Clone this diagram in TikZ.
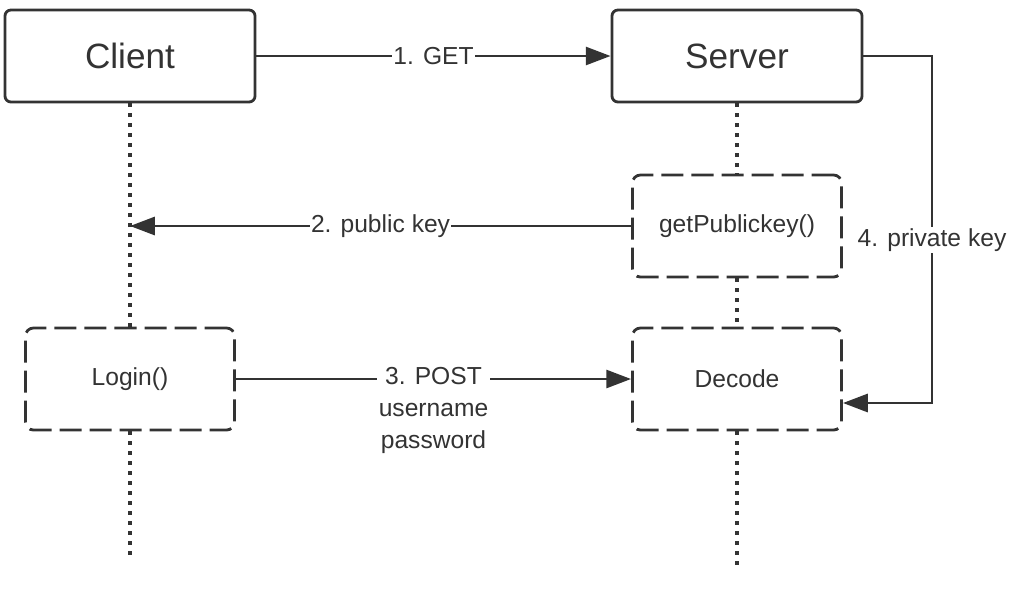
\documentclass[tikz,border=0pt]{standalone}
\usepackage{fontspec}
\setmainfont{Liberation Sans}
\usetikzlibrary{arrows.meta,positioning}
\definecolor{ink}{HTML}{333333}
\tikzstyle{actor}=[rectangle, rounded corners=0.15cm, draw=ink, line width=2pt, align=center, minimum width=6.25cm, minimum height=2.3cm, font=\fontsize{25}{30}\selectfont]
\tikzstyle{call}=[rectangle, rounded corners=0.2cm, draw=ink, line width=2pt, dash pattern=on 0.55cm off 0.2cm, align=center, minimum width=5.225cm, minimum height=2.55cm, font=\fontsize{17.5}{21}\selectfont]
\tikzstyle{msg}=[fill=white, inner sep=1pt, align=center, font=\fontsize{17.5}{22.8}\selectfont]
\tikzstyle{lifeline}=[draw=ink, line width=2.4pt, dash pattern=on 0.08cm off 0.17cm]
\tikzstyle{conn}=[draw=ink, line width=2pt]

\begin{document}
\begin{tikzpicture}[x=0.025cm, y=-0.025cm, every node/.style={text=ink}, >={Triangle[length=0.62cm,width=0.45cm]}]
\useasboundingbox (0,0) rectangle (1018,600);

\node[actor](client) at (130,56) {Client};
\node[actor](server) at (737,56) {Server};
\node[call](getpk) at (737,226) {getPublickey()};
\node[call](decode) at (737,379) {Decode};
\node[call](login) at (130,379) {Login()};

\coordinate (cend) at (130,558);
\coordinate (send) at (737,568);
\coordinate (pk1) at (932,56);
\coordinate (pk2) at (932,403);

% lifelines
\draw[lifeline](client.south) -- (login.north);
\draw[lifeline](login.south) -- (cend);
\draw[lifeline](server.south) -- (getpk.north);
\draw[lifeline](getpk.south) -- (decode.north);
\draw[lifeline](decode.south) -- (send);

% messages
\draw[conn,->](client.east) -- node[msg] {1. GET} (server.west);
\draw[conn,->](getpk.west) -- node[msg] {2. public key} (getpk.west -| client);
\draw[conn,->](login.east) -- node[msg,anchor=north,yshift=0.36cm] {3. POST\\username\\password} (decode.west);
\draw[conn,->](server.east) -- (pk1) -- node[msg,pos=0.53] {4. private key} (pk2) -- (pk2 -| decode.east);

\end{tikzpicture}
\end{document}
